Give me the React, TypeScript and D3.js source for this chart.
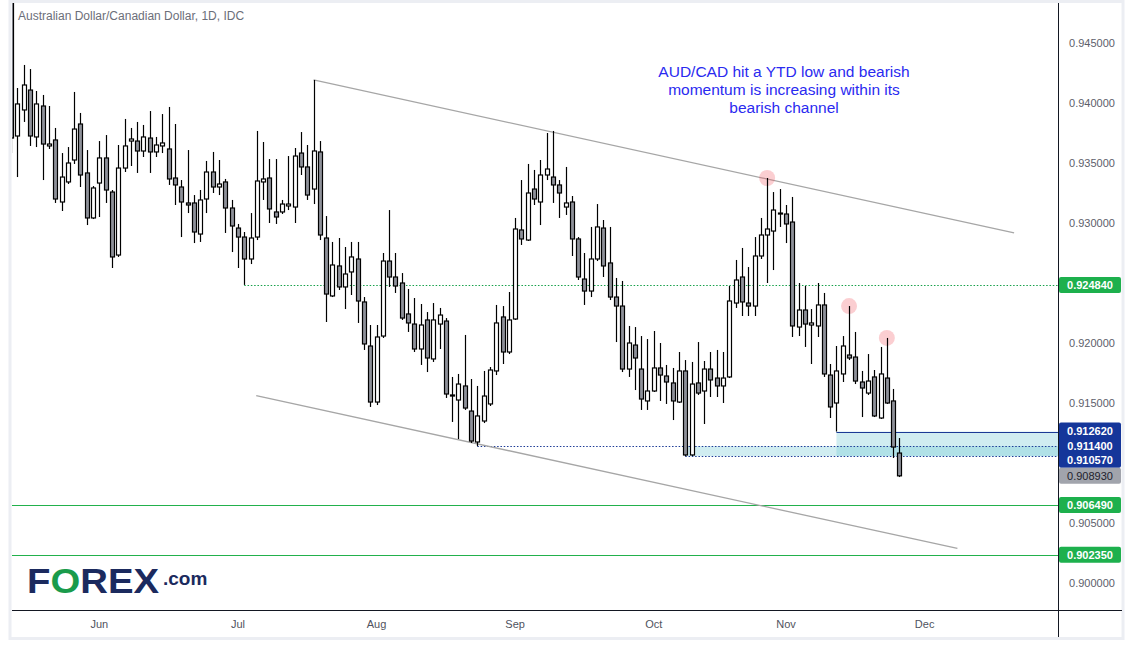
import React from 'react';
import * as d3 from 'd3';

// ---- Data: daily AUD/CAD candles (index 0 = mid May 2021, last = 25 Nov 2021)
const opens = [
  0.94842, 0.93725, 0.93942, 0.94108, 0.93717, 0.93975, 0.93642, 0.93692, 0.93175, 0.93342,
  0.93525, 0.93825, 0.93417, 0.93042, 0.93333, 0.93542, 0.93258, 0.92733, 0.93458, 0.93683,
  0.93683, 0.93600, 0.93708, 0.93592, 0.93642, 0.93617, 0.93375, 0.93300, 0.93167, 0.93167,
  0.92908, 0.93200, 0.93425, 0.93300, 0.93342, 0.93125, 0.92958, 0.92883, 0.92700, 0.92883,
  0.93342, 0.93375, 0.93092, 0.93092, 0.93142, 0.93133, 0.93583, 0.93467, 0.93283, 0.93592,
  0.92875, 0.92392, 0.92642, 0.92467, 0.92592, 0.92700, 0.92342, 0.91975, 0.91508, 0.92058,
  0.92683, 0.92550, 0.92500, 0.92242, 0.92158, 0.91950, 0.92192, 0.91867, 0.92158, 0.92183,
  0.91567, 0.91525, 0.91642, 0.91433, 0.91175, 0.91350, 0.91492, 0.91767, 0.92217, 0.91925,
  0.92200, 0.92942, 0.92858, 0.93283, 0.93175, 0.93400, 0.93383, 0.93317, 0.93133, 0.93175,
  0.92867, 0.92533, 0.92433, 0.92700, 0.92958, 0.92667, 0.92383, 0.92308, 0.91783, 0.91983,
  0.91783, 0.91517, 0.91600, 0.91792, 0.91725, 0.91667, 0.91508, 0.91767, 0.91067, 0.91667,
  0.91600, 0.91783, 0.91708, 0.91642, 0.91717, 0.92333, 0.92550, 0.92333, 0.92308, 0.92725,
  0.92900, 0.92933, 0.93083, 0.93075, 0.93008, 0.92133, 0.92275, 0.92150, 0.92142, 0.92317,
  0.91733, 0.91500, 0.91742, 0.91900, 0.91883, 0.91675, 0.91583, 0.91717, 0.91375, 0.91708,
  0.91517, 0.91083,
];
const highs = [
  0.94900, 0.94125, 0.94317, 0.94283, 0.94100, 0.94067, 0.93975, 0.93792, 0.93583, 0.93633,
  0.94092, 0.93917, 0.93608, 0.93308, 0.93683, 0.93733, 0.93275, 0.93650, 0.93867, 0.93792,
  0.93842, 0.93817, 0.93933, 0.93717, 0.93908, 0.93967, 0.93825, 0.93358, 0.93608, 0.93233,
  0.93275, 0.93517, 0.93592, 0.93525, 0.93367, 0.93192, 0.92992, 0.92925, 0.93083, 0.93767,
  0.93675, 0.93533, 0.93533, 0.93192, 0.93558, 0.93625, 0.93758, 0.93650, 0.94192, 0.93683,
  0.93058, 0.92842, 0.92875, 0.92800, 0.92842, 0.92842, 0.92383, 0.92150, 0.92150, 0.92750,
  0.93108, 0.92750, 0.92583, 0.92450, 0.92375, 0.92325, 0.92258, 0.92333, 0.92292, 0.92208,
  0.91717, 0.91742, 0.92067, 0.91700, 0.91642, 0.91767, 0.91800, 0.92317, 0.92308, 0.92425,
  0.93042, 0.93358, 0.93492, 0.93442, 0.93525, 0.93750, 0.93767, 0.93358, 0.93467, 0.93225,
  0.92883, 0.92750, 0.92967, 0.93158, 0.93025, 0.92967, 0.92542, 0.92517, 0.92142, 0.92133,
  0.92058, 0.92033, 0.92100, 0.92000, 0.91817, 0.91792, 0.91925, 0.91858, 0.91842, 0.92008,
  0.91850, 0.91925, 0.91942, 0.91925, 0.92475, 0.92692, 0.92792, 0.92633, 0.92883, 0.93042,
  0.93375, 0.93258, 0.93283, 0.93150, 0.93217, 0.92500, 0.92475, 0.92283, 0.92500, 0.92417,
  0.91825, 0.91975, 0.92058, 0.92308, 0.92092, 0.91767, 0.91908, 0.91775, 0.91967, 0.92042,
  0.91617, 0.91208,
];
const lows = [
  0.93583, 0.93383, 0.93842, 0.93642, 0.93633, 0.93358, 0.93617, 0.93167, 0.93100, 0.93325,
  0.93492, 0.93300, 0.92983, 0.93033, 0.93050, 0.93167, 0.92625, 0.92717, 0.93425, 0.93475,
  0.93417, 0.93550, 0.93417, 0.93550, 0.93583, 0.93317, 0.93150, 0.92883, 0.93083, 0.92833,
  0.92842, 0.93083, 0.93250, 0.93233, 0.92917, 0.92758, 0.92625, 0.92484, 0.92658, 0.92858,
  0.93192, 0.93000, 0.92992, 0.93075, 0.93108, 0.93000, 0.93400, 0.93192, 0.93158, 0.92858,
  0.92175, 0.92383, 0.92442, 0.92283, 0.92400, 0.92167, 0.91942, 0.91467, 0.91483, 0.92042,
  0.92467, 0.92417, 0.92192, 0.92092, 0.91925, 0.91817, 0.91758, 0.91842, 0.91950, 0.91542,
  0.91342, 0.91200, 0.91442, 0.91167, 0.91140, 0.91333, 0.91475, 0.91733, 0.91825, 0.91908,
  0.92192, 0.92817, 0.92850, 0.93150, 0.92983, 0.93358, 0.93167, 0.93042, 0.93067, 0.92725,
  0.92525, 0.92317, 0.92383, 0.92683, 0.92550, 0.92358, 0.92008, 0.91758, 0.91717, 0.91608,
  0.91442, 0.91442, 0.91592, 0.91517, 0.91492, 0.91358, 0.91500, 0.91057, 0.91058, 0.91567,
  0.91325, 0.91550, 0.91550, 0.91500, 0.91708, 0.92292, 0.92225, 0.92225, 0.92225, 0.92700,
  0.92500, 0.92608, 0.92967, 0.92833, 0.92050, 0.92058, 0.91967, 0.91825, 0.92050, 0.91717,
  0.91375, 0.91262, 0.91675, 0.91858, 0.91658, 0.91383, 0.91567, 0.91383, 0.91367, 0.91492,
  0.91042, 0.90883,
];
const closes = [
  0.93708, 0.93992, 0.94150, 0.93725, 0.93992, 0.93658, 0.93658, 0.93200, 0.93383, 0.93500,
  0.93783, 0.93400, 0.93042, 0.93292, 0.93542, 0.93275, 0.92717, 0.93458, 0.93642, 0.93700,
  0.93600, 0.93717, 0.93592, 0.93650, 0.93667, 0.93367, 0.93317, 0.93175, 0.93150, 0.92925,
  0.93192, 0.93425, 0.93300, 0.93325, 0.93125, 0.92975, 0.92883, 0.92700, 0.92875, 0.93350,
  0.93367, 0.93117, 0.93050, 0.93158, 0.93158, 0.93558, 0.93467, 0.93233, 0.93600, 0.92900,
  0.92408, 0.92650, 0.92467, 0.92575, 0.92717, 0.92350, 0.91992, 0.91508, 0.92050, 0.92683,
  0.92550, 0.92475, 0.92208, 0.92167, 0.91950, 0.92150, 0.91875, 0.92192, 0.92233, 0.91575,
  0.91558, 0.91658, 0.91458, 0.91183, 0.91392, 0.91558, 0.91775, 0.92167, 0.91925, 0.92192,
  0.92950, 0.92867, 0.93250, 0.93200, 0.93400, 0.93450, 0.93317, 0.93250, 0.93167, 0.92867,
  0.92550, 0.92433, 0.92700, 0.92967, 0.92642, 0.92383, 0.92308, 0.91783, 0.92000, 0.91875,
  0.91533, 0.91600, 0.91792, 0.91733, 0.91675, 0.91517, 0.91767, 0.91067, 0.91658, 0.91583,
  0.91783, 0.91692, 0.91642, 0.91708, 0.92350, 0.92525, 0.92342, 0.92308, 0.92725, 0.92900,
  0.92950, 0.93108, 0.93075, 0.92992, 0.92142, 0.92275, 0.92158, 0.92167, 0.92317, 0.91742,
  0.91467, 0.91767, 0.91975, 0.91875, 0.91683, 0.91625, 0.91683, 0.91392, 0.91742, 0.91500,
  0.91133, 0.90893,
];

const monthNames = ['Jun', 'Jul', 'Aug', 'Sep', 'Oct', 'Nov', 'Dec'];
const monthStartIndex = [14, 36, 58, 80, 102, 123, 145];
const priceTicks = [0.9, 0.905, 0.91, 0.915, 0.92, 0.925, 0.93, 0.935, 0.94, 0.945];

// channel lines: [bar index, price]
const channelTop = [[48, 0.94192], [159.2, 0.92917]];
const channelBottom = [[38.9, 0.91561], [150.2, 0.90288]];

// horizontal levels
const dottedLevels = [
  { price: 0.92484, from: 37, color: '#16a04a' },
  { price: 0.9114, from: 74, color: '#1c3a96' },
  { price: 0.91057, from: 107, color: '#1c3a96' },
];
const supportLevels = [0.90649, 0.90235];
const zones = [
  { from: 107, top: 0.9114, bottom: 0.91057 },
  { from: 131, top: 0.91262, bottom: 0.91057 },
];
const zoneTopLine = { price: 0.91262, from: 131 };
const highlightBars = [120, 133, 139];

const blueBadges = [0.91262, 0.9114, 0.91057];
const greenBadges = [0.92484, 0.90649, 0.90235];
const lastPrice = 0.90893;

const noteLines = [
  'AUD/CAD hit a YTD low and bearish',
  'momentum is increasing within its',
  'bearish channel',
];

const W = 1132;
const H = 648;
const PL = 12, PR = 1058, PT = 3, PB = 611;
const BAR = 6.3;

const x = d3.scaleLinear().domain([0, 1]).range([11.15, 11.15 + BAR]);
const y = d3.scaleLinear().domain([0.9, 0.945]).range([583, 43]);

const fmt = (v: number) => v.toFixed(6);
const FONT = "'Liberation Sans', Arial, sans-serif";

export default function App() {
  const candles = opens.map((o, i) => ({ o, h: highs[i], l: lows[i], c: closes[i], i }));
  const navy = '#1c3a96';
  const green = '#22b14c';

  // stacked blue badge positions
  const blueY: number[] = [];
  blueBadges.forEach((v, k) => {
    const yy = y(v);
    blueY.push(k === 0 ? yy - 1 : Math.max(yy, blueY[k - 1] + 13.5));
  });
  const badgeYs = [...greenBadges.map((p) => y(p)), ...blueY, y(lastPrice)];
  const visibleTicks = priceTicks.filter((p) => badgeYs.every((b) => Math.abs(b - y(p)) > 11));

  return (
    <svg width={W} height={H} style={{ position: 'absolute', left: 0, top: 0, background: '#fff' }}
      fontFamily={FONT}>
      <defs>
        <clipPath id="plotClip">
          <rect x={PL} y={PT} width={PR - PL} height={PB - PT} />
        </clipPath>
      </defs>
      <rect x={0} y={0} width={W} height={H} fill="#fff" />
      <rect x={10} y={1.5} width={1113} height={637} fill="#fff" stroke="#eceef3" strokeWidth={3} />

      <g clipPath="url(#plotClip)">
        {/* zones */}
        {zones.map((z, k) => (
          <rect key={'z' + k} x={x(z.from)} y={y(z.top)} width={PR - x(z.from)}
            height={y(z.bottom) - y(z.top)} fill="rgba(110,200,210,0.32)" />
        ))}
        <line x1={x(zoneTopLine.from)} x2={PR} y1={Math.round(y(zoneTopLine.price)) + 0.5}
          y2={Math.round(y(zoneTopLine.price)) + 0.5} stroke={navy} strokeWidth={1} />

        {/* dotted levels */}
        {dottedLevels.map((d, k) => (
          <line key={'d' + k} x1={x(d.from)} x2={PR} y1={Math.round(y(d.price)) + 0.5}
            y2={Math.round(y(d.price)) + 0.5} stroke={d.color} strokeWidth={1.2}
            strokeDasharray="1.5 1.8" />
        ))}
        {/* support lines */}
        {supportLevels.map((p, k) => (
          <line key={'s' + k} x1={PL} x2={PR} y1={Math.round(y(p)) + 0.5} y2={Math.round(y(p)) + 0.5}
            stroke={green} strokeWidth={1.2} />
        ))}

        {/* channel */}
        {[channelTop, channelBottom].map((c, k) => (
          <line key={'c' + k} x1={x(c[0][0])} y1={y(c[0][1])} x2={x(c[1][0])} y2={y(c[1][1])}
            stroke="#a6a6a6" strokeWidth={1.3} />
        ))}

        {/* highlight circles */}
        {highlightBars.map((i) => (
          <circle key={'h' + i} cx={x(i)} cy={y(highs[i])} r={8} fill="rgba(242,80,90,0.28)" />
        ))}

        {/* candles */}
        {candles.map((d) => {
          const cx = Math.round(x(d.i));
          const top = y(Math.max(d.o, d.c));
          const bot = y(Math.min(d.o, d.c));
          const bull = d.c >= d.o;
          return (
            <g key={d.i}>
              <line x1={cx + 0.5} x2={cx + 0.5} y1={y(d.h)} y2={y(d.l)} stroke="#000" strokeWidth={1.2} />
              <rect x={cx - 1.5} y={top} width={4} height={Math.max(1, bot - top)}
                fill={bull ? '#fff' : '#8e9199'} stroke="#000" strokeWidth={1.2} />
            </g>
          );
        })}
      </g>

      {/* title */}
      <text x={18} y={20} fontSize={12} fill="#6b6e79">Australian Dollar/Canadian Dollar, 1D, IDC</text>

      {/* annotation */}
      <text x={784} y={77} fontSize={15.5} fill="#2a2af0" textAnchor="middle">
        {noteLines.map((t, k) => (
          <tspan key={k} x={784} dy={k === 0 ? 0 : 18}>{t}</tspan>
        ))}
      </text>

      {/* logo */}
      <text x={27} y={593} fontSize={35} fontWeight={900} fill="#1b2a5e" textLength={132}
        lengthAdjust="spacingAndGlyphs">
        <tspan>F</tspan><tspan fill="#1a9b4b">O</tspan><tspan>REX</tspan>
      </text>
      <text x={163} y={585} fontSize={19} fontWeight={700} fill="#1b2a5e">.com</text>

      {/* axes lines */}
      <line x1={PR + 0.5} x2={PR + 0.5} y1={PT} y2={637} stroke="#131722" strokeWidth={1} />
      <line x1={PL} x2={1122} y1={PB - 0.5} y2={PB - 0.5} stroke="#131722" strokeWidth={1} />

      {/* price ticks */}
      {visibleTicks.map((p) => (
        <text key={p} x={1092} y={y(p) + 4} fontSize={11} fill="#5d606b" textAnchor="middle">{fmt(p)}</text>
      ))}

      {/* month labels */}
      {monthNames.map((m, k) => (
        <text key={m} x={x(monthStartIndex[k])} y={628} fontSize={11} fill="#50535e" textAnchor="middle">{m}</text>
      ))}

      {/* badges */}
      {greenBadges.map((p) => (
        <g key={'gb' + p}>
          <rect x={1059} y={y(p) - 8} width={62} height={16} rx={2} fill="#1db04d" />
          <text x={1090} y={y(p) + 4} fontSize={11} fontWeight={700} fill="#fff" textAnchor="middle">{fmt(p)}</text>
        </g>
      ))}
      <rect x={1059} y={blueY[0] - 8} width={62} height={blueY[blueY.length - 1] - blueY[0] + 16} rx={2} fill="#15369a" />
      {blueBadges.map((p, k) => (
        <text key={'bb' + p} x={1090} y={blueY[k] + 4} fontSize={11} fontWeight={700} fill="#fff" textAnchor="middle">{fmt(p)}</text>
      ))}
      <rect x={1059} y={y(lastPrice) - 8} width={62} height={16} rx={2} fill="#a1a4ac" />
      <text x={1090} y={y(lastPrice) + 4} fontSize={11} fill="#1e222d" textAnchor="middle">{fmt(lastPrice)}</text>
    </svg>
  );
}
